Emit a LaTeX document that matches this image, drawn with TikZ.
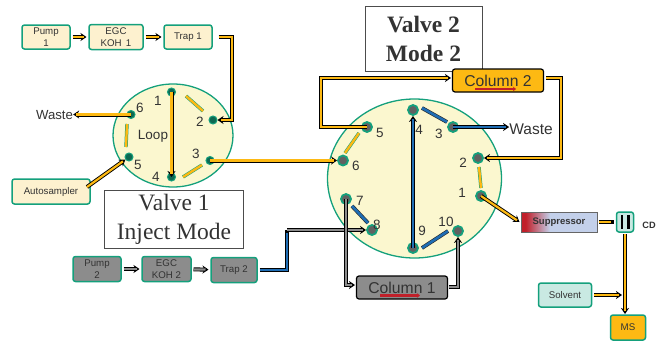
\documentclass[tikz,border=0pt]{standalone}
\usepackage{fontspec}
\setmainfont{Liberation Sans}
\newfontfamily\boxserif{Liberation Serif}
\usetikzlibrary{arrows.meta,shapes.geometric}
\definecolor{ringgreen}{HTML}{14A07C}
\definecolor{creamfill}{HTML}{FDF1CF}
\definecolor{valvefill}{HTML}{FBF7CF}
\definecolor{pipeyellow}{HTML}{FDB913}
\definecolor{pipeblue}{HTML}{1F6DB4}
\definecolor{pipegray}{HTML}{8C8C8C}
\definecolor{minttint}{HTML}{C9E9E2}
\definecolor{textgray}{HTML}{333333}
\definecolor{redmark}{HTML}{C0202A}
\definecolor{lavender}{HTML}{C3D0EA}
\pgfdeclarehorizontalshading{suppshade}{100bp}{color(0bp)=(redmark); color(28bp)=(redmark); color(44bp)=(lavender); color(100bp)=(lavender)}
\begin{document}
\begin{tikzpicture}[x=1pt, y=-1pt,
  every node/.style={text=textgray, inner sep=0pt},
  valve/.style={ellipse, draw=ringgreen, fill=valvefill, line width=1.3pt},
  unit/.style={rectangle, rounded corners=2.5pt, draw=ringgreen, line width=1.5pt, fill=creamfill, align=center, outer sep=2.5pt, font=\fontsize{9.7}{11.5}\selectfont},
  grayunit/.style={unit, fill=pipegray},
  column/.style={rectangle, rounded corners=2.5pt, draw=black, line width=1.2pt, outer sep=1.5pt, minimum width=91pt, minimum height=23pt, font=\fontsize{15.7}{18}\selectfont},
  titlebox/.style={rectangle, draw=black!70, fill=white, line width=0.6pt, align=center, font=\boxserif\fontsize{23.5}{29}\selectfont},
  portyellow/.style={circle, fill=black!35!ringgreen, draw=ringgreen, line width=1pt, minimum size=8pt},
  portgray/.style={circle, fill=black!62, draw=ringgreen, line width=1.8pt, minimum size=10pt},
  portnum/.style={font=\fontsize{13.5}{15}\selectfont},
  pipe/.style={draw=black, line width=4pt, line join=miter, postaction={draw=#1, line width=2.2pt, -, shorten >=3pt}},
  tip/.style={-{Stealth[length=6pt,width=8pt]}},
  stubline/.style={draw=ringgreen, line width=3.4pt, postaction={draw=#1, line width=2.4pt}},
  bluestub/.style={draw=black!85, line width=3.8pt, postaction={draw=pipeblue, line width=2.6pt}},
  flowmark/.style={draw=redmark, line width=2.2pt, -{Stealth[length=3pt,width=4.5pt]}}]
\useasboundingbox (0,0) rectangle (667,343);

% Valve 1 Body and Ports
\node[valve, minimum width=120pt, minimum height=103pt] (valveone) at (173,135.5) {};
\node[portyellow] (a1) at (171.5,92) {};
\node[portyellow] (a2) at (213,120) {};
\node[portyellow] (a3) at (210,160.5) {};
\node[portyellow] (a4) at (171.5,177) {};
\node[portyellow] (a5) at (129,157) {};
\node[portyellow] (a6) at (131,114.5) {};
\node[portnum] (na1) at (158,101) {1};
\node[portnum] (na2) at (200,122) {2};
\node[portnum] (na3) at (196,154) {3};
\node[portnum] (na4) at (156,177) {4};
\node[portnum] (na5) at (138,165) {5};
\node[portnum] (na6) at (140,108) {6};
\node[portnum] (loop) at (153,136) {Loop};

% Valve 2 Body and Ports
\node[valve, minimum width=174pt, minimum height=159pt] (valvetwo) at (414.5,178.5) {};
\node[portgray] (b1) at (481,196) {};
\node[portgray] (b2) at (478,158) {};
\node[portgray] (b3) at (453,127) {};
\node[portgray] (b4) at (413,110) {};
\node[portgray] (b5) at (367,127) {};
\node[portgray] (b6) at (343,160.5) {};
\node[portgray] (b7) at (346,199) {};
\node[portgray] (b8) at (372,230) {};
\node[portgray] (b9) at (413,248) {};
\node[portgray] (b10) at (458,231) {};
\node[portnum] (nb1) at (462,193) {1};
\node[portnum] (nb2) at (463,163) {2};
\node[portnum] (nb3) at (439,134) {3};
\node[portnum] (nb4) at (419,130) {4};
\node[portnum] (nb5) at (380,133) {5};
\node[portnum] (nb6) at (356,166) {6};
\node[portnum] (nb7) at (360,201) {7};
\node[portnum] (nb8) at (377,225) {8};
\node[portnum] (nb9) at (422,231) {9};
\node[portnum] (nb10) at (446,222) {10};

% Title Boxes
\node[titlebox, minimum width=139pt, minimum height=58pt] (titleone) at (174,219) {Valve 1\\Inject Mode};
\node[titlebox, minimum width=117pt, minimum height=65pt, font=\boxserif\bfseries\fontsize{23.5}{29}\selectfont] (titletwo) at (423.5,38.5) {Valve 2\\Mode 2};

% Upper Pump Line
\node[unit, minimum width=48pt, minimum height=24pt] (pumpone) at (46,37) {Pump\\1};
\node[unit, minimum width=54pt, minimum height=25pt] (egcone) at (116,37) {EGC\\KOH\, 1};
\node[unit, minimum width=48pt, minimum height=24pt] (trapone) at (188,37) {Trap 1};
\node[unit, minimum width=78pt, minimum height=25pt] (autosampler) at (51,191.5) {Autosampler};

% Lower Pump Line
\node[grayunit, minimum width=48pt, minimum height=25pt] (pumptwo) at (97,269) {Pump\\2};
\node[grayunit, minimum width=49pt, minimum height=25pt] (egctwo) at (166.5,269) {EGC\\KOH 2};
\node[grayunit, minimum width=46pt, minimum height=25pt] (traptwo) at (234,270) {Trap 2};

% Columns
\node[column, fill=pipeyellow] (columntwo) at (498,80.5) {Column 2};
\node[column, fill=pipegray] (columnone) at (402,287.5) {Column 1};

% Detector Side
\node[rectangle, draw=black!60, line width=0.8pt, shading=suppshade, minimum width=76pt, minimum height=20pt, outer sep=1.5pt, font=\bfseries\fontsize{9.5}{11}\selectfont] (suppressor) at (559,222) {Suppressor};
\node[unit, fill=minttint, minimum width=17pt, minimum height=20pt] (cdcell) at (625,222) {};
\node[unit, fill=minttint, minimum width=53pt, minimum height=24pt] (solvent) at (565,295) {Solvent};
\node[unit, fill=pipeyellow, minimum width=35pt, minimum height=25pt] (ms) at (628,327.5) {MS};
\node[font=\bfseries\fontsize{9.2}{10}\selectfont] (cdlabel) at (649,225) {CD};
\node[font=\fontsize{13.2}{15}\selectfont] (wasteone) at (54.5,115) {Waste};
\node[font=\fontsize{15.5}{18}\selectfont] (wastetwo) at (531,129) {Waste};

% Pipe Corners
\coordinate (c1) at (232,37);
\coordinate (c2) at (232,120);
\coordinate (c3) at (321,127);
\coordinate (c4) at (321,78);
\coordinate (c5) at (561,78);
\coordinate (c6) at (561,158);
\coordinate (c7) at (346,285);
\coordinate (c8) at (458,287);
\coordinate (c9) at (287,270);
\coordinate (c10) at (287,230);
\coordinate (c11) at (87,187);
\coordinate (d1) at (625,234);
\coordinate (d2) at (625,314);
\coordinate (d3) at (622,295);

% Yellow Flow Paths
\draw[pipe=pipeyellow, tip] (pumpone) -- (egcone);
\draw[pipe=pipeyellow, tip] (egcone) -- (trapone);
\draw[pipe=pipeyellow, tip, shorten <=4pt] (trapone.east) -- (c1) -- (c2) -- (a2);
\draw[pipe=pipeyellow, tip] (a1.center) -- (a4.center);
\draw[pipe=pipeyellow, tip] (a6.center) -- (wasteone.east |- a6);
\draw[pipe=pipeyellow, tip] (c11) -- (a5);
\draw[pipe=pipeyellow, tip] (a3.center) -- (b6);
\draw[pipe=pipeyellow, tip] (b5.center) -- (c3) -- (c4) -- (columntwo.west |- c4);
\draw[pipe=pipeyellow, shorten <=1pt, tip] (columntwo.east |- c5) -- (c5) -- (c6) -- (b2);
\draw[pipe=pipeyellow, tip] (b1.center) -- (suppressor.west);
\draw[pipe=pipeyellow] (suppressor.east) -- (cdcell.west);
\draw[pipe=pipeyellow, tip] (d1) -- (d2);
\draw[pipe=pipeyellow, tip] (solvent.east) -- (d3);

% Blue and Gray Flow Paths
\draw[pipe=pipegray, tip] (pumptwo) -- (egctwo);
\draw[pipe=pipegray, tip] (egctwo) -- (traptwo);
\draw[pipe=pipeblue] (traptwo.east) -- (c9) -- (c10);
\draw[pipe=pipegray, tip] (c10) -- (b8);
\draw[pipe=pipeblue, tip] (b9.center) -- (b4);
\draw[pipe=pipeblue, tip] (b3.center) -- (wastetwo.west |- b3);
\draw[pipe=pipegray, tip] (b7.center) -- (c7) -- (columnone.west |- c7);
\draw[pipe=pipegray, tip] (columnone.east |- c8) -- (c8) -- (b10);

% Short Bars Between Ports
\coordinate (s1) at (186,96); \coordinate (s2) at (203,111);
\coordinate (s3) at (127,124); \coordinate (s4) at (126,147);
\coordinate (s5) at (183,177); \coordinate (s6) at (202,165);
\coordinate (s7) at (359,133); \coordinate (s8) at (345,153);
\coordinate (s9) at (479,167); \coordinate (s10) at (481,188);
\coordinate (s11) at (422,108); \coordinate (s12) at (447,122);
\coordinate (s13) at (352,206); \coordinate (s14) at (368,223);
\coordinate (s15) at (422,248); \coordinate (s16) at (448,231);
\draw[stubline=pipeyellow] (s1) -- (s2);
\draw[stubline=pipeyellow] (s3) -- (s4);
\draw[stubline=pipeyellow] (s5) -- (s6);
\draw[stubline=pipeyellow] (s7) -- (s8);
\draw[stubline=pipeyellow] (s9) -- (s10);
\draw[bluestub] (s11) -- (s12);
\draw[bluestub] (s13) -- (s14);
\draw[bluestub] (s15) -- (s16);

% Flow Marks in Columns
\coordinate (m1) at (475,89); \coordinate (m2) at (516,89);
\coordinate (m3) at (380,295.5); \coordinate (m4) at (420,295.5);
\draw[flowmark] (m1) -- (m2);
\draw[flowmark] (m3) -- (m4);

% Detector Bars
\coordinate (e1) at (622,215); \coordinate (e2) at (622,229);
\coordinate (e3) at (628.5,215); \coordinate (e4) at (628.5,229);
\draw[line width=2.4pt] (e1) -- (e2);
\draw[line width=2.4pt] (e3) -- (e4);

\end{tikzpicture}
\end{document}
